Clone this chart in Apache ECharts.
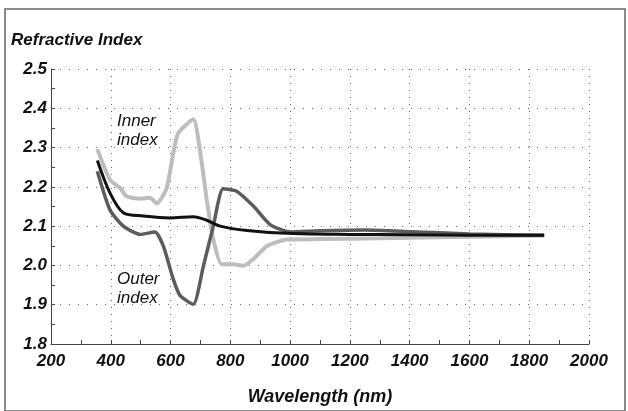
<!DOCTYPE html>
<html>
<head>
<meta charset="utf-8">
<script src="https://cdn.jsdelivr.net/npm/echarts@6/dist/echarts.min.js"></script>
<style>
  html, body { margin: 0; padding: 0; background: #fff; }
  #main { width: 628px; height: 411px; }
</style>
</head>
<body>
<div id="main"></div>
<script>
// values
var innerNm  = [355, 397, 431, 453, 498, 531, 554, 587, 609, 626, 676, 698, 721, 743, 771, 810, 843, 877, 922, 989, 1100, 1300, 1500, 1850];
var innerVal = [2.296, 2.218, 2.197, 2.176, 2.17, 2.172, 2.158, 2.197, 2.286, 2.337, 2.372, 2.295, 2.168, 2.066, 2.003, 2.003, 1.999, 2.016, 2.049, 2.066, 2.067, 2.069, 2.072, 2.076];

var meanNm  = [355, 397, 442, 509, 598, 676, 721, 766, 856, 1011, 1200, 1400, 1600, 1850];
var meanVal = [2.267, 2.185, 2.134, 2.126, 2.121, 2.124, 2.115, 2.1, 2.089, 2.081, 2.079, 2.078, 2.077, 2.077];

var outerNm  = [355, 397, 442, 498, 548, 576, 609, 632, 676, 710, 743, 776, 821, 877, 933, 1000, 1100, 1250, 1400, 1600, 1850];
var outerVal = [2.24, 2.142, 2.1, 2.079, 2.085, 2.049, 1.965, 1.923, 1.901, 1.999, 2.1, 2.195, 2.189, 2.151, 2.104, 2.085, 2.088, 2.09, 2.086, 2.08, 2.077];

function pairs(xs, ys) {
  return xs.map(function (x, i) { return [x, ys[i]]; });
}

var chart = echarts.init(document.getElementById('main'));

var labelFont = {
  fontFamily: 'Liberation Sans',
  fontStyle: 'italic',
  fontWeight: 'bold',
  fontSize: 17,
  color: '#111'
};

var option = {
  animation: false,
  grid: { left: 51, right: 39, top: 69, bottom: 66 },
  xAxis: {
    type: 'value',
    min: 200,
    max: 2000,
    interval: 200,
    name: 'Wavelength (nm)',
    nameLocation: 'middle',
    nameGap: 44,
    nameTextStyle: Object.assign({}, labelFont, { fontSize: 18 }),
    axisLine: { lineStyle: { color: '#444', width: 1 } },
    axisTick: { show: true, inside: true, length: 4, lineStyle: { color: '#444' } },
    minorTick: { show: true, splitNumber: 2, length: 4, lineStyle: { color: '#444' } },
    axisLabel: Object.assign({}, labelFont, {
      margin: 9,
      formatter: function (v) { return String(v); }
    }),
    splitLine: { show: true, lineStyle: { color: '#666', type: [1, 6], width: 1 } }
  },
  yAxis: {
    type: 'value',
    min: 1.8,
    max: 2.5,
    interval: 0.1,
    axisLine: { show: true, lineStyle: { color: '#444', width: 1 } },
    axisTick: { show: true, inside: true, length: 4, lineStyle: { color: '#444' } },
    minorTick: { show: true, splitNumber: 2, length: 4, lineStyle: { color: '#444' } },
    axisLabel: Object.assign({}, labelFont, {
      margin: 4,
      formatter: function (v) { return v.toFixed(1); }
    }),
    splitLine: { show: true, lineStyle: { color: '#666', type: [1, 8], width: 1 } }
  },
  graphic: [
    {
      type: 'rect',
      shape: { x: 5, y: 9, width: 620, height: 402 },
      style: { fill: null, stroke: '#666', lineWidth: 1.5 }
    },
    {
      type: 'text', left: 11, top: 32,
      style: { text: 'Refractive Index', font: 'italic bold 17px "Liberation Sans"', fill: '#111' }
    },
    {
      type: 'text', left: 117, top: 112,
      style: { text: 'Inner\nindex', font: 'italic 17px "Liberation Sans"', fill: '#111', lineHeight: 19 }
    },
    {
      type: 'text', left: 117, top: 270,
      style: { text: 'Outer\nindex', font: 'italic 17px "Liberation Sans"', fill: '#111', lineHeight: 19 }
    }
  ],
  series: [
    {
      name: 'Inner index',
      type: 'line',
      data: pairs(innerNm, innerVal),
      showSymbol: false,
      smooth: 0.2,
      lineStyle: { color: '#bdbdbd', width: 4 },
      z: 2
    },
    {
      name: 'Outer index',
      type: 'line',
      data: pairs(outerNm, outerVal),
      showSymbol: false,
      smooth: 0.2,
      lineStyle: { color: '#5c5c5c', width: 3.5 },
      z: 3
    },
    {
      name: 'Mean',
      type: 'line',
      data: pairs(meanNm, meanVal),
      showSymbol: false,
      smooth: 0.3,
      lineStyle: { color: '#111', width: 3 },
      z: 4
    }
  ]
};

chart.setOption(option);
</script>
</body>
</html>
